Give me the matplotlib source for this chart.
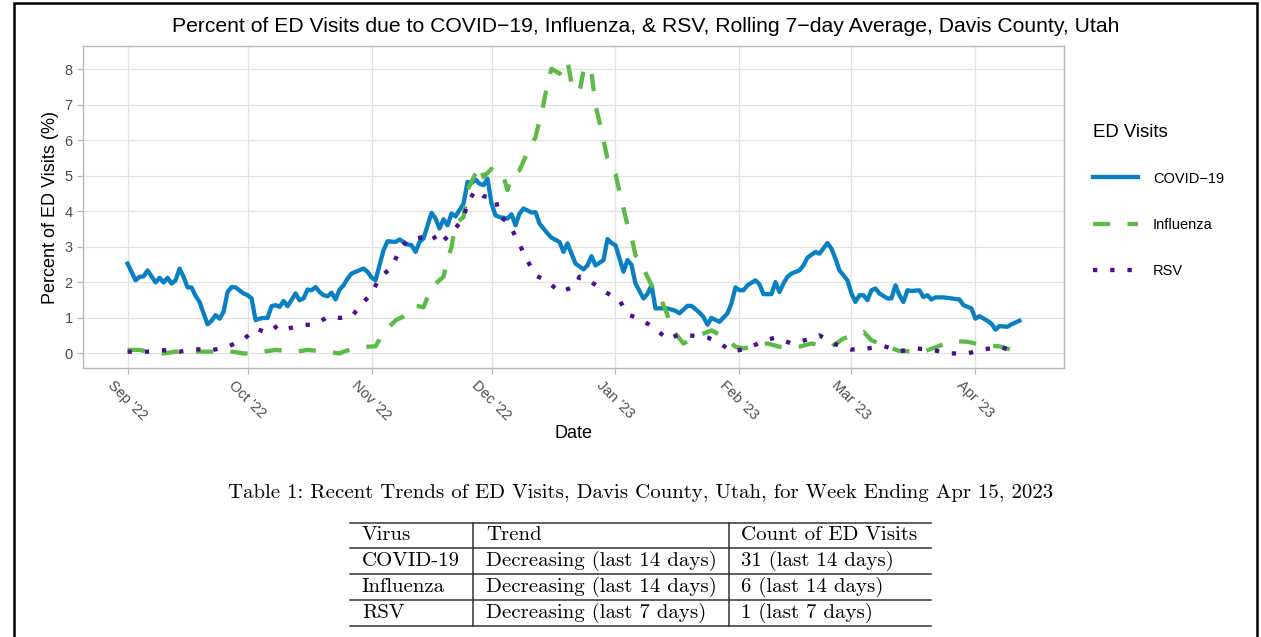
import numpy as np
import matplotlib.pyplot as plt
import matplotlib.dates as mdates
from matplotlib.lines import Line2D
from matplotlib.patches import Rectangle

plt.rcParams['font.family'] = ['Liberation Sans', 'DejaVu Sans']

start = np.datetime64('2022-09-01')

# days since Sep 1 2022, percent of ED visits (rolling 7-day average)
covid_day = [0, 2, 3, 4, 5, 7, 8, 9, 10, 11, 12, 13, 14, 15, 16, 17, 18, 19, 20, 21,
             22, 23, 24, 25, 26, 27, 29, 30, 31, 32, 33, 34, 35, 36, 37, 38, 39, 40, 42, 43,
             44, 45, 46, 47, 48, 49, 50, 51, 52, 53, 54, 55, 56, 57, 59, 60, 61, 62, 64, 65,
             67, 68, 70, 71, 72, 73, 74, 76, 77, 78, 79, 80, 81, 82, 84, 85, 86, 87, 88, 89,
             90, 91, 92, 93, 95, 96, 97, 98, 99, 101, 102, 103, 105, 106, 108, 109, 110, 111, 112, 114,
             115, 116, 117, 119, 120, 121, 122, 123, 124, 125, 126, 127, 129, 130, 131, 132, 134, 135, 137, 138,
             140, 141, 143, 144, 145, 146, 148, 150, 151, 152, 153, 154, 155, 157, 158, 159, 161, 162, 163, 164,
             165, 166, 168, 169, 170, 171, 172, 173, 175, 176, 177, 178, 180, 181, 182, 183, 184, 185, 186, 187,
             188, 190, 191, 192, 193, 194, 195, 196, 198, 199, 200, 201, 202, 204, 206, 208, 209, 211, 212, 213,
             215, 216, 217, 218, 220, 221, 223]
covid_pct = [2.53, 2.06, 2.16, 2.17, 2.34, 2.0, 2.13, 2.0, 2.13, 1.97, 2.06, 2.39, 2.16, 1.86, 1.86, 1.62, 1.45, 1.13, 0.82, 0.92,
             1.08, 0.98, 1.17, 1.73, 1.87, 1.86, 1.69, 1.64, 1.55, 0.94, 0.98, 1.0, 1.0, 1.33, 1.36, 1.31, 1.48, 1.33, 1.69, 1.5,
             1.55, 1.8, 1.78, 1.87, 1.73, 1.64, 1.61, 1.71, 1.52, 1.8, 1.92, 2.11, 2.25, 2.3, 2.39, 2.3, 2.14, 2.06, 2.91, 3.16,
             3.14, 3.21, 3.07, 3.05, 2.86, 3.14, 3.24, 3.96, 3.8, 3.52, 3.78, 3.61, 3.94, 3.86, 4.22, 4.83, 4.8, 4.9, 4.78, 4.74,
             4.92, 4.22, 3.89, 3.84, 3.8, 3.92, 3.61, 3.94, 4.08, 3.97, 3.98, 3.66, 3.38, 3.26, 3.14, 2.86, 3.1, 2.81, 2.53, 2.37,
             2.48, 2.74, 2.48, 2.63, 3.22, 3.11, 3.05, 2.67, 2.3, 2.63, 2.5, 1.97, 1.55, 1.68, 1.92, 1.27, 1.27, 1.27, 1.2, 1.13,
             1.34, 1.34, 1.15, 1.03, 0.81, 1.0, 0.89, 1.13, 1.41, 1.86, 1.78, 1.78, 1.92, 2.06, 1.95, 1.67, 1.67, 2.01, 1.73, 1.97,
             2.16, 2.25, 2.34, 2.48, 2.7, 2.78, 2.86, 2.81, 3.11, 2.95, 2.67, 2.34, 2.06, 1.69, 1.45, 1.64, 1.64, 1.5, 1.78, 1.83,
             1.69, 1.55, 1.55, 1.92, 1.64, 1.45, 1.78, 1.76, 1.78, 1.59, 1.64, 1.52, 1.58, 1.58, 1.55, 1.52, 1.36, 1.27, 0.98, 1.05,
             0.92, 0.84, 0.67, 0.77, 0.75, 0.82, 0.92]

flu_day = [0, 3, 5, 9, 12, 17, 21, 25, 29, 32, 34, 37, 42, 45, 50, 53, 54, 58, 62, 63,
           65, 67, 70, 72, 74, 76, 79, 80, 81, 82, 84, 85, 88, 89, 91, 92, 94, 95, 96, 98,
           100, 102, 103, 104, 105, 106, 108, 110, 111, 113, 114, 115, 116, 117, 118, 119, 120, 122, 123, 124,
           125, 126, 127, 129, 131, 133, 135, 136, 139, 142, 146, 149, 152, 154, 160, 163, 168, 171, 176, 179,
           184, 186, 190, 193, 199, 202, 206, 210, 214, 218, 222, 223]
flu_pct = [0.1, 0.1, 0.05, 0.0, 0.05, 0.05, 0.05, 0.07, 0.0, 0.0, 0.05, 0.1, 0.05, 0.1, 0.05, 0.0, 0.05, 0.18, 0.2, 0.4,
           0.7, 0.93, 1.1, 1.35, 1.3, 1.87, 2.16, 2.63, 3.0, 3.66, 3.84, 4.6, 5.3, 4.97, 5.2, 5.0, 4.97, 4.6, 5.02, 5.16,
           5.67, 6.09, 6.56, 7.03, 7.6, 8.02, 7.88, 8.25, 7.6, 7.36, 7.97, 8.11, 7.92, 6.99, 6.52, 6.0, 5.49, 5.06, 4.55, 4.08,
           3.61, 3.28, 2.77, 2.39, 1.92, 1.64, 1.08, 0.7, 0.28, 0.47, 0.65, 0.47, 0.19, 0.14, 0.28, 0.19, 0.19, 0.28, 0.19, 0.42,
           0.61, 0.37, 0.19, 0.07, 0.05, 0.17, 0.35, 0.33, 0.23, 0.2, 0.07, 0.17]

rsv_day = [0, 5, 9, 13, 17, 21, 25, 29, 32, 35, 38, 40, 44, 47, 50, 53, 56, 58, 61, 63,
           66, 68, 70, 74, 76, 78, 81, 84, 85, 87, 89, 92, 93, 95, 96, 98, 100, 102, 105, 108,
           112, 113, 116, 119, 123, 125, 128, 132, 135, 138, 142, 145, 148, 151, 155, 159, 162, 166, 170, 173,
           177, 181, 185, 189, 193, 197, 201, 205, 210, 214, 218, 222]
rsv_pct = [0.05, 0.05, 0.09, 0.05, 0.12, 0.09, 0.19, 0.39, 0.7, 0.58, 0.82, 0.7, 0.8, 0.82, 1.03, 1.0, 1.03, 1.32, 1.69, 2.13,
           2.42, 2.9, 3.19, 3.28, 3.38, 3.07, 3.4, 3.8, 4.24, 4.6, 4.43, 4.36, 3.87, 3.69, 3.52, 3.07, 2.61, 2.2, 2.03, 1.73,
           1.89, 2.16, 2.01, 1.76, 1.5, 1.1, 0.98, 0.7, 0.39, 0.54, 0.49, 0.45, 0.3, 0.05, 0.14, 0.35, 0.45, 0.28, 0.39, 0.51,
           0.26, 0.11, 0.14, 0.21, 0.06, 0.14, 0.11, 0.0, 0.0, 0.11, 0.19, 0.05]

series_names = ['COVID\u221219', 'Influenza', 'RSV']
series_colors = ['#0a80c4', '#5cba47', '#4b0f8f']

table_caption = 'Table 1: Recent Trends of ED Visits, Davis County, Utah, for Week Ending Apr 15, 2023'
table_header = ['Virus', 'Trend', 'Count of ED Visits']
table_rows = [['COVID-19', 'Decreasing (last 14 days)', '31 (last 14 days)'],
              ['Influenza', 'Decreasing (last 14 days)', '6 (last 14 days)'],
              ['RSV', 'Decreasing (last 7 days)', '1 (last 7 days)']]


def to_dates(days):
    return start + np.array(days).astype('timedelta64[D]')


W, H = 1261, 637
fig = plt.figure(figsize=(W / 100, H / 100), dpi=100)
ax = fig.add_axes([83 / W, 1 - 368 / H, (1064 - 83) / W, (368 - 46) / H])

lw = 3.1
ax.plot(to_dates(covid_day), covid_pct, color=series_colors[0], lw=lw,
        solid_joinstyle='round', label=series_names[0])
ax.plot(to_dates(flu_day), flu_pct, color=series_colors[1], lw=lw,
        linestyle=(0, (4, 4)), dash_capstyle='butt', label=series_names[1])
ax.plot(to_dates(rsv_day), rsv_pct, color=series_colors[2], lw=lw,
        linestyle=(0, (1, 3)), dash_capstyle='butt', label=series_names[2])

x0 = mdates.date2num(start)
ax.set_xlim(x0 - 11.15, x0 + 234.15)
ax.set_ylim(-0.41, 8.66)
ax.set_yticks(range(0, 9))
ax.xaxis.set_major_locator(mdates.MonthLocator())
ax.xaxis.set_major_formatter(mdates.DateFormatter("%b '%y"))

ax.grid(True, color='#e2e2e2', lw=0.9)
ax.set_axisbelow(True)
for s in ax.spines.values():
    s.set_color('#b8b8b8')
    s.set_linewidth(1.0)
ax.tick_params(axis='both', colors='#b8b8b8', labelcolor='#4d4d4d', labelsize=10.5, length=4, width=0.9)
ax.tick_params(axis='x', labelrotation=-45, pad=3)

ax.set_xlabel('Date', fontsize=13, labelpad=2)
ax.set_ylabel('Percent of ED Visits (%)', fontsize=13, labelpad=4)

leg = ax.legend(loc='upper left', bbox_to_anchor=(1093 / W, 1 - 124 / H),
                bbox_transform=fig.transFigure, frameon=False, title='ED Visits',
                title_fontsize=13.4, fontsize=10.5, handlelength=3.1, handletextpad=1.0,
                labelspacing=2.2, borderpad=0, borderaxespad=0, alignment='left')
leg._legend_box.sep = 22

fig.text(646 / W, 1 - 27 / H,
         'Percent of ED Visits due to COVID\u221219, Influenza, & RSV, Rolling 7\u2212day Average, Davis County, Utah',
         ha='center', va='center', fontsize=15.2)

# table
serif = ['cmr10', 'DejaVu Serif']
fs_tab = 15
fig.text(641 / W, 1 - 493 / H, table_caption, ha='center', va='center', fontsize=fs_tab, family=serif)
rule_y = [523, 548, 574, 600, 626]
for y in rule_y:
    fig.add_artist(Line2D([350 / W, 931 / W], [1 - y / H, 1 - y / H], color='#333333', lw=1.1))
for xv in [473, 729]:
    fig.add_artist(Line2D([xv / W, xv / W], [1 - 523 / H, 1 - 626 / H], color='#333333', lw=1.1))
col_x = [362, 486, 741]
rows = [table_header] + table_rows
for i, row in enumerate(rows):
    yc = (rule_y[i] + rule_y[i + 1]) / 2
    for xv, txt in zip(col_x, row):
        fig.text(xv / W, 1 - yc / H, txt, ha='left', va='center', fontsize=fs_tab, family=serif)

# outer frame
fig.add_artist(Rectangle((14 / W, -0.05), (1257 - 14) / W, 1.05 - 3 / H, transform=fig.transFigure,
                         fill=False, edgecolor='black', lw=1.8))

fig.savefig('out.png', dpi=100)
